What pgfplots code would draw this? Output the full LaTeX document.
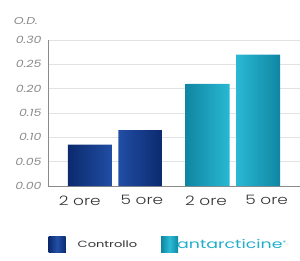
\documentclass[border=0pt]{standalone}
\usepackage{pgfplots}
\pgfplotsset{compat=1.18}
\usepackage{fontspec}
\setmainfont{Poppins}
\newfontfamily\widefont[FakeStretch=1.25]{Poppins}
\newfontfamily\widerfont[FakeStretch=1.45]{Poppins}
\newfontfamily\labfont[FakeStretch=1.3]{Poppins Light}
\definecolor{dblue}{HTML}{123C8E}
\definecolor{dblueL}{HTML}{2350A8}
\definecolor{dblueD}{HTML}{0B2A6E}
\definecolor{cyanb}{HTML}{22AECB}
\definecolor{cyanL}{HTML}{2CBCD6}
\definecolor{cyanD}{HTML}{0F86A3}
\definecolor{tickgray}{HTML}{8A8A8A}
\definecolor{gridgray}{HTML}{E2E2E2}
\begin{document}
\begin{tikzpicture}[x=1pt,y=1pt]
\useasboundingbox (-48,-74) rectangle (252,186);
\begin{axis}[
  at={(0,0)}, anchor=south west,
  scale only axis, width=252pt, height=146pt,
  ymin=0, ymax=0.30, xmin=-0.83, xmax=4.16,
  ytick={0,0.05,...,0.30},
  yticklabel style={font=\widefont\itshape\fontsize{10}{10}\selectfont, color=tickgray,
    xshift=-3pt,
    /pgf/number format/fixed, /pgf/number format/fixed zerofill,
    /pgf/number format/precision=2},
  /pgf/number format/assume math mode=true,
  xtick={-0.2,1.03,2.3,3.5},
  xticklabels={2 ore,5 ore,2 ore,5 ore},
  xticklabel style={font=\labfont\fontsize{13}{13}\selectfont, color=black!80, yshift=-6pt},
  major tick length=0pt,
  ymajorgrids, grid style={gridgray, line width=0.8pt},
  axis x line*=bottom, axis y line*=left,
  axis line style={tickgray, line width=0.8pt},
  x axis line style={-}, y axis line style={-},
  ybar, bar width=0.87, bar shift=0pt,
  clip=false,
  legend style={at={(axis description cs:-0.01,-0.404)}, anchor=west, draw=none, fill=none,
    legend columns=2,
    /tikz/every even column/.append style={column sep=22pt}},
  legend image code/.code={\fill[#1] (0pt,-8pt) rectangle (17pt,8pt);},
]
\addplot[draw=none, left color=dblueD, right color=dblueD, middle color=dblueL]
  coordinates {(0,0.085) (1,0.115)};
\addlegendentry{\hspace{10pt}\widerfont\fontsize{9}{9}\selectfont\textcolor{black!80}{Controllo}}
\addplot[draw=none, left color=cyanD, right color=cyanD, middle color=cyanL]
  coordinates {(2.33,0.21) (3.33,0.27)};
\addlegendentry{\hspace{-3pt}\textcolor{cyanb}{\widerfont\fontsize{12}{12}\selectfont antarcticine\textsuperscript{\tiny\textregistered}}}
\node[anchor=south east, font=\widefont\itshape\fontsize{10}{10}\selectfont, text=tickgray, inner sep=0pt]
  at ([xshift=-10pt,yshift=15pt]rel axis cs:0,1) {O.D.};
\end{axis}
\end{tikzpicture}
\end{document}
